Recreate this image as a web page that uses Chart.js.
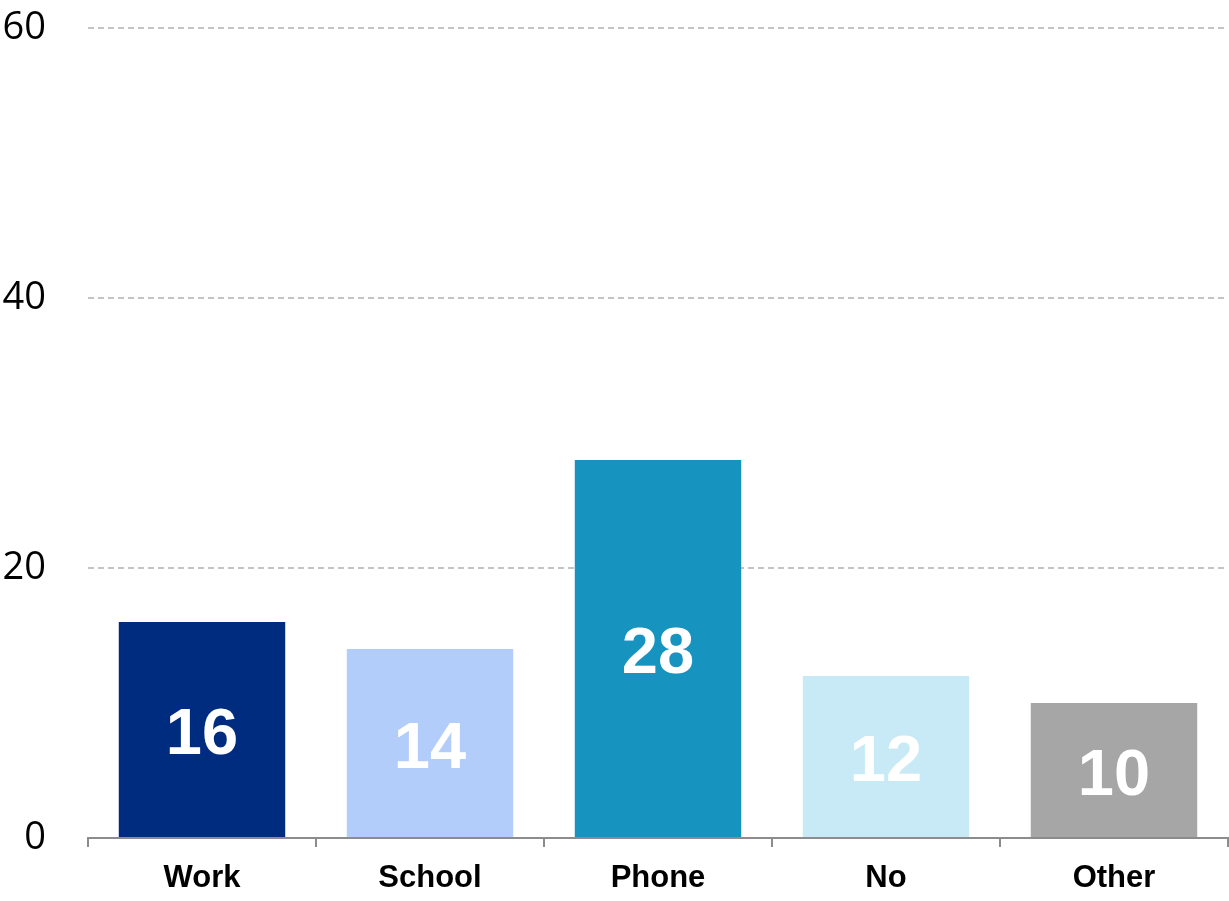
<!DOCTYPE html>
<html>
<head>
<meta charset="utf-8">
<title>Responses</title>
<script src="https://cdn.jsdelivr.net/npm/chart.js@4.4.0/dist/chart.umd.min.js"></script>
<style>
  html, body { margin: 0; padding: 0; background: #fff; }
  #wrap { width: 1229px; height: 901px; }
</style>
</head>
<body>
<div id="wrap"><canvas id="chart" width="1229" height="901"></canvas></div>
<script>
const categories = ['Work', 'School', 'Phone', 'No', 'Other'];
const values = [16, 14, 28, 12, 10];
const barColors = ['#002c7f', '#b3cdfb', '#1793c0', '#c8eaf6', '#a6a6a6'];
const yTicks = [0, 20, 40, 60];

// white value inside the middle of each bar
const barValueLabels = {
    id: 'barValueLabels',
    afterDatasetsDraw(chart) {
        const ctx = chart.ctx;
        const meta = chart.getDatasetMeta(0);
        ctx.save();
        ctx.fillStyle = '#ffffff';
        ctx.font = 'bold 65px "Liberation Sans", Arial, sans-serif';
        ctx.textAlign = 'center';
        ctx.textBaseline = 'middle';
        meta.data.forEach((bar, i) => {
            const mid = (bar.y + bar.base) / 2;
            ctx.fillText(String(values[i]), bar.x, mid + 7);
        });
        ctx.restore();
    }
};

new Chart(document.getElementById('chart').getContext('2d'), {
    type: 'bar',
    data: {
        labels: categories,
        datasets: [{
            data: values,
            backgroundColor: barColors,
            borderWidth: 0,
            categoryPercentage: 1,
            barPercentage: 0.73
        }]
    },
    options: {
        responsive: false,
        animation: false,
        layout: { padding: { top: 28, right: 1, left: 0, bottom: 0 } },
        plugins: {
            legend: { display: false },
            tooltip: { enabled: false }
        },
        scales: {
            y: {
                min: 0,
                max: 60,
                afterBuildTicks(scale) {
                    scale.ticks = yTicks.map(v => ({ value: v }));
                },
                afterFit(scale) {
                    scale.width = 88;
                    scale.paddingTop = 0;
                    scale.paddingBottom = 0;
                },
                grid: {
                    drawTicks: false,
                    color: c => (c.tick && c.tick.value === 0 ? 'rgba(0,0,0,0)' : '#c4c4c4'),
                    lineWidth: 2
                },
                border: { display: false, dash: [6, 4] },
                ticks: {
                    padding: 42,
                    color: '#000',
                    font: { family: '"Open Sans", sans-serif', size: 38 }
                }
            },
            x: {
                afterFit(scale) { scale.height = 63; },
                border: { display: true, color: '#8c8c8c', width: 2 },
                grid: {
                    offset: true,
                    drawOnChartArea: false,
                    drawTicks: true,
                    tickLength: 9,
                    color: '#8c8c8c',
                    lineWidth: 2
                },
                ticks: {
                    padding: 13,
                    color: '#000',
                    font: { family: '"Liberation Sans", Arial, sans-serif', size: 31, weight: 'bold' }
                }
            }
        }
    },
    plugins: [barValueLabels]
});
</script>
</body>
</html>
